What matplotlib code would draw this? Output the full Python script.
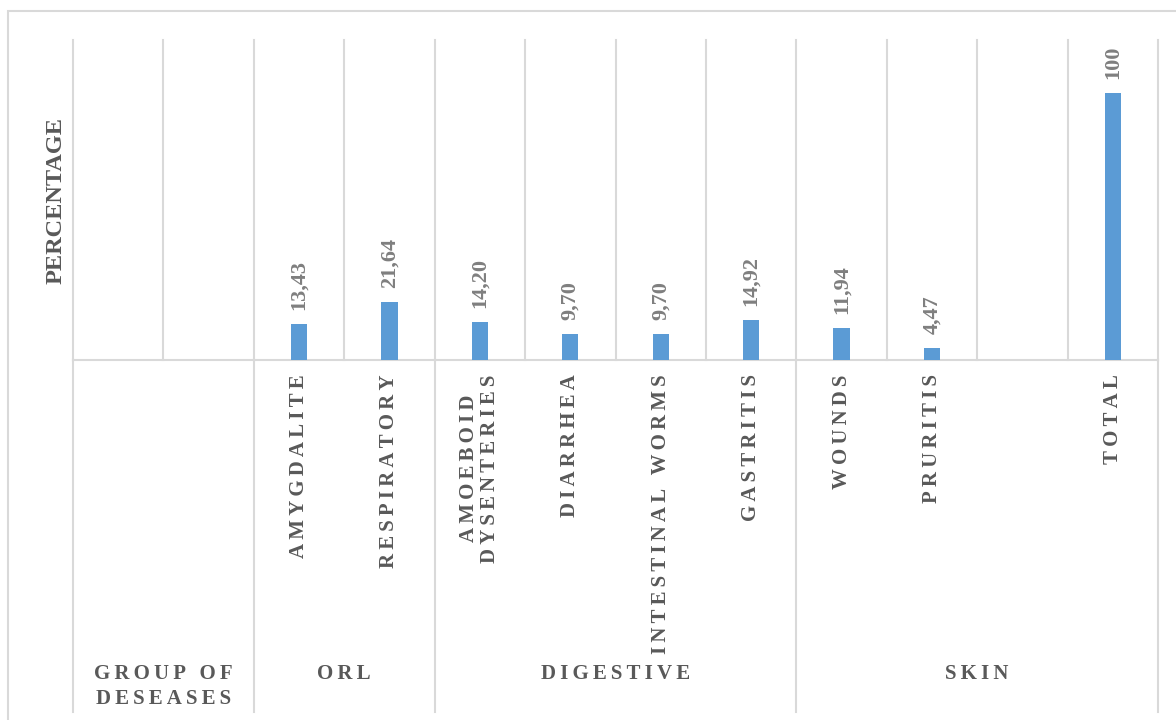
import matplotlib.pyplot as plt
from matplotlib.patches import Rectangle
from matplotlib.transforms import blended_transform_factory

# Categories (two-level axis: disease group / disease)
diseases = ["", "", "AMYGDALITE", "RESPIRATORY", "AMOEBOID\nDYSENTERIES", "DIARRHEA",
            "INTESTINAL WORMS", "GASTRITIS", "WOUNDS", "PRURITIS", "", "TOTAL"]
percent = [None, None, 13.43, 21.64, 14.20, 9.70, 9.70, 14.92, 11.94, 4.47, None, 100]
groups = ["GROUP OF\nDESEASES", "ORL", "DIGESTIVE", "SKIN"]
group_sizes = [2, 2, 4, 4]

serif = "Liberation Serif"
grid_col = "#D9D9D9"
bar_col = "#5B9BD5"
label_col = "#595959"
value_col = "#7F7F7F"


def spaced(text):
    # Excel-like letter spacing
    lines = []
    for line in text.split("\n"):
        lines.append("\u2009 \u2009".join("\u2009".join(w) for w in line.split()))
    return "\n".join(lines)


def fmt(v):
    if v == int(v):
        return f"{int(v)}"
    return f"{v:.2f}".replace(".", ",")


fig = plt.figure(figsize=(11.76, 7.2), dpi=100)
ax = fig.add_axes([73 / 1176, 0.5, (1158 - 73) / 1176, 320 / 720])

# outer chart border
fig.patches.append(Rectangle((8 / 1176, -0.05), 1.2, (709 / 720) + 0.05,
                             transform=fig.transFigure, fill=False,
                             edgecolor=grid_col, lw=1.5, zorder=0))

n = len(diseases)
xs = list(range(n))
ax.set_xlim(-0.5, n - 0.5)
ax.set_ylim(0, 120)

for x, v in zip(xs, percent):
    if v is None:
        continue
    ax.bar(x, v, width=0.18, color=bar_col, zorder=3)
    ax.annotate(fmt(v), (x, v), xytext=(0, 10), textcoords="offset points",
                rotation=90, ha="center", va="bottom", fontsize=16,
                fontweight="bold", color=value_col, family=serif)

for s in ax.spines.values():
    s.set_visible(False)
ax.set_xticks([])
ax.set_yticks([])

trans = blended_transform_factory(ax.transData, ax.transAxes)

# vertical gridlines in the plot area
for k in range(n + 1):
    ax.plot([k - 0.5, k - 0.5], [0, 1], transform=trans, color=grid_col,
            lw=1.5, zorder=1, clip_on=False)
ax.plot([-0.5, n - 0.5], [0, 0], transform=trans, color=grid_col, lw=1.5,
        zorder=2, clip_on=False)

# category labels
for x, name in zip(xs, diseases):
    if not name:
        continue
    ax.text(x, -0.045, spaced(name), transform=trans, rotation=90,
            ha="center", va="top", multialignment="center", fontsize=15,
            fontweight="bold", color=label_col, family=serif, linespacing=1.05)

# group separators and labels
start = -0.5
ax.plot([start, start], [0, -1.1], transform=trans, color=grid_col, lw=1.5,
        clip_on=False)
for g, size in zip(groups, group_sizes):
    end = start + size
    ax.plot([end, end], [0, -1.1], transform=trans, color=grid_col, lw=1.5,
            clip_on=False)
    ax.text((start + end) / 2, -0.95, spaced(g), transform=trans,
            ha="center", va="top", multialignment="center", fontsize=15,
            fontweight="bold", color=label_col, family=serif, linespacing=1.3)
    start = end

ax.set_ylabel("PERCENTAGE", fontsize=17.5, fontweight="bold", color=label_col,
              family=serif, labelpad=5)

fig.savefig("out.png", dpi=100)
